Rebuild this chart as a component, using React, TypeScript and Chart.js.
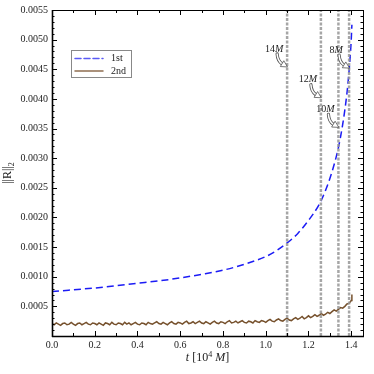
import { useEffect, useRef } from 'react';
import { Chart, registerables } from 'chart.js';
Chart.register(...registerables);

// ---- data ----
const blueT = [0, 0.1, 0.2, 0.3, 0.4, 0.5, 0.6, 0.7, 0.8, 0.9, 1.0, 1.05, 1.1, 1.15, 1.2, 1.25, 1.28, 1.31, 1.34, 1.36, 1.38, 1.39, 1.4, 1.403];
const blueR = [0.00075, 0.00078, 0.00081, 0.00085, 0.00089, 0.00093, 0.00098, 0.00104, 0.00111, 0.00121, 0.00134, 0.00144, 0.00157, 0.00173, 0.00195, 0.00222, 0.00246, 0.00277, 0.00318, 0.00357, 0.0041, 0.00448, 0.005, 0.00525];

const brownT = [
  0.00, 0.01, 0.02, 0.03, 0.04, 0.05, 0.06, 0.07, 0.08, 0.09,
  0.10, 0.11, 0.12, 0.13, 0.14, 0.15, 0.16, 0.17, 0.18, 0.19,
  0.20, 0.21, 0.22, 0.23, 0.24, 0.25, 0.26, 0.27, 0.28, 0.29,
  0.30, 0.31, 0.32, 0.33, 0.34, 0.35, 0.36, 0.37, 0.38, 0.39,
  0.40, 0.41, 0.42, 0.43, 0.44, 0.45, 0.46, 0.47, 0.48, 0.49,
  0.50, 0.51, 0.52, 0.53, 0.54, 0.55, 0.56, 0.57, 0.58, 0.59,
  0.60, 0.61, 0.62, 0.63, 0.64, 0.65, 0.66, 0.67, 0.68, 0.69,
  0.70, 0.71, 0.72, 0.73, 0.74, 0.75, 0.76, 0.77, 0.78, 0.79,
  0.80, 0.81, 0.82, 0.83, 0.84, 0.85, 0.86, 0.87, 0.88, 0.89,
  0.90, 0.91, 0.92, 0.93, 0.94, 0.95, 0.96, 0.97, 0.98, 0.99,
  1.00, 1.01, 1.02, 1.03, 1.04, 1.05, 1.06, 1.07, 1.08, 1.09,
  1.10, 1.11, 1.12, 1.13, 1.14, 1.15, 1.16, 1.17, 1.18, 1.19,
  1.20, 1.21, 1.22, 1.23, 1.24, 1.25, 1.26, 1.27, 1.28, 1.29,
  1.30, 1.31, 1.32, 1.33, 1.34, 1.35, 1.36, 1.37, 1.38, 1.39,
  1.40, 1.403,
];
const brownR = [
  0.00021, 0.00019, 0.00022, 0.00020, 0.00018, 0.00021, 0.00022, 0.00019, 0.00020, 0.00023,
  0.00020, 0.00018, 0.00021, 0.00022, 0.00019, 0.00021, 0.00023, 0.00020, 0.00019, 0.00022,
  0.00021, 0.00019, 0.00022, 0.00020, 0.00018, 0.00022, 0.00021, 0.00019, 0.00023, 0.00020,
  0.00019, 0.00022, 0.00021, 0.00019, 0.00023, 0.00020, 0.00022, 0.00019, 0.00021, 0.00023,
  0.00020, 0.00019, 0.00022, 0.00021, 0.00019, 0.00023, 0.00021, 0.00020, 0.00022, 0.00024,
  0.00021, 0.00020, 0.00023, 0.00021, 0.00019, 0.00022, 0.00024, 0.00021, 0.00020, 0.00023,
  0.00022, 0.00020, 0.00023, 0.00025, 0.00021, 0.00022, 0.00024, 0.00021, 0.00023, 0.00025,
  0.00022, 0.00021, 0.00024, 0.00022, 0.00020, 0.00023, 0.00025, 0.00022, 0.00021, 0.00024,
  0.00023, 0.00021, 0.00024, 0.00026, 0.00022, 0.00023, 0.00025, 0.00022, 0.00024, 0.00026,
  0.00023, 0.00022, 0.00025, 0.00024, 0.00022, 0.00026, 0.00024, 0.00023, 0.00026, 0.00025,
  0.00023, 0.00026, 0.00028, 0.00025, 0.00024, 0.00027, 0.00029, 0.00026, 0.00025, 0.00028,
  0.00030, 0.00027, 0.00026, 0.00029, 0.00031, 0.00028, 0.00030, 0.00033, 0.00029, 0.00031,
  0.00034, 0.00031, 0.00033, 0.00036, 0.00033, 0.00035, 0.00038, 0.00035, 0.00037, 0.00040,
  0.00038, 0.00041, 0.00044, 0.00042, 0.00045, 0.00048, 0.00047, 0.00050, 0.00054, 0.00055,
  0.00060, 0.00070,
];

const markT = [1.10, 1.258, 1.34, 1.39];
const markLabel = ['14', '12', '10', '8'];
const markR = [0.00454, 0.00402, 0.00352, 0.00452];

const xMajorTicks = [0, 0.2, 0.4, 0.6, 0.8, 1.0, 1.2, 1.4];
const legendLabels = ['1st', '2nd'];

const X_MIN = 0, X_MAX = 1.455, Y_MIN = 0, Y_MAX = 0.0055;
const BLUE = '#1c1cf5';
const BROWN = '#76512d';
const SERIF = '"Liberation Serif", "DejaVu Serif", serif';

function drawArrow(ctx: CanvasRenderingContext2D, px: number, py: number) {
  const dx = 0.857, dy = 0.514;
  const bx = px - 6 * dx, by = py - 6 * dy;
  const nx = -dy, ny = dx;
  const sx = px - 10, sy = py - 13;
  ctx.lineCap = 'round';
  ctx.setLineDash([]);
  ctx.beginPath();
  ctx.moveTo(sx, sy);
  ctx.quadraticCurveTo(px - 9.5, py - 6, bx, by);
  ctx.strokeStyle = '#555';
  ctx.lineWidth = 3.2;
  ctx.stroke();
  ctx.beginPath();
  ctx.moveTo(sx, sy);
  ctx.quadraticCurveTo(px - 9.5, py - 6, bx, by);
  ctx.strokeStyle = '#fff';
  ctx.lineWidth = 1.5;
  ctx.stroke();
  ctx.beginPath();
  ctx.moveTo(px, py);
  ctx.lineTo(bx + 3.2 * nx, by + 3.2 * ny);
  ctx.lineTo(bx - 3.2 * nx, by - 3.2 * ny);
  ctx.closePath();
  ctx.fillStyle = '#fff';
  ctx.fill();
  ctx.strokeStyle = '#555';
  ctx.lineWidth = 0.8;
  ctx.stroke();
}

const decoPlugin = {
  id: 'deco',
  afterDatasetsDraw(chart: any) {
    const { ctx, chartArea: a, scales } = chart;
    const x = scales.x, y = scales.y;
    ctx.save();
    const line = (x1: number, y1: number, x2: number, y2: number) => {
      ctx.beginPath(); ctx.moveTo(x1, y1); ctx.lineTo(x2, y2); ctx.stroke();
    };
    // frame
    ctx.setLineDash([]);
    ctx.strokeStyle = '#000';
    ctx.lineWidth = 1;
    ctx.strokeRect(Math.round(a.left) + 0.5, Math.round(a.top) + 0.5, Math.round(a.right - a.left), Math.round(a.bottom - a.top));
    ctx.lineWidth = 1.6;
    line(Math.round(a.left) + 0.5, a.top, Math.round(a.left) + 0.5, a.bottom + 1);
    line(a.left, Math.round(a.bottom) + 0.5, a.right + 1, Math.round(a.bottom) + 0.5);
    ctx.lineWidth = 1;
    // x ticks
    for (let i = 0; i <= 14; i++) {
      const v = i / 10;
      const px = Math.round(x.getPixelForValue(v)) + 0.5;
      const L = i % 2 === 0 ? 5 : 3;
      line(px, a.bottom, px, a.bottom - L);
      line(px, a.top, px, a.top + L);
    }
    // y ticks
    for (let i = 1; i <= 55; i++) {
      const v = i * 0.0001;
      const py = Math.round(y.getPixelForValue(v)) + 0.5;
      const L = i % 5 === 0 ? 5 : 2.5;
      line(a.left, py, a.left + L, py);
      line(a.right, py, a.right - L, py);
    }
    // annotations
    for (let i = 0; i < markT.length; i++) {
      const px = x.getPixelForValue(markT[i]);
      const py = y.getPixelForValue(markR[i]);
      drawArrow(ctx, px, py);
      ctx.font = `10px ${SERIF}`;
      const num = markLabel[i];
      const wNum = ctx.measureText(num).width;
      ctx.font = `italic 10px ${SERIF}`;
      const wM = ctx.measureText('M').width;
      const cx = px - 13, cy = py - 18;
      const start = cx - (wNum + wM) / 2;
      ctx.fillStyle = '#222';
      ctx.textBaseline = 'middle';
      ctx.textAlign = 'left';
      ctx.font = `10px ${SERIF}`;
      ctx.fillText(num, start, cy);
      ctx.font = `italic 10px ${SERIF}`;
      ctx.fillText('M', start + wNum, cy);
    }
    // legend
    const lx = a.left + 19, ly = a.top + 40;
    ctx.fillStyle = '#fff';
    ctx.fillRect(lx, ly, 60, 27);
    ctx.strokeStyle = '#888';
    ctx.lineWidth = 1;
    ctx.strokeRect(lx + 0.5, ly + 0.5, 60, 27);
    ctx.lineWidth = 1.5;
    ctx.strokeStyle = '#5a5af5';
    ctx.setLineDash([6, 3]);
    line(lx + 4, ly + 8.5, lx + 32, ly + 8.5);
    ctx.setLineDash([]);
    ctx.strokeStyle = '#8e6e50';
    line(lx + 4, ly + 21, lx + 32, ly + 21);
    ctx.fillStyle = '#222';
    ctx.font = `10px ${SERIF}`;
    ctx.textBaseline = 'middle';
    ctx.textAlign = 'left';
    ctx.fillText(legendLabels[0], lx + 40, ly + 8.5);
    ctx.fillText(legendLabels[1], lx + 40, ly + 21);
    // x title
    const parts: [string, string, number][] = [
      ['t', 'italic 12px', 0], [' [10', '12px', 0], ['4', '8px', -4], [' ', '12px', 0], ['M', 'italic 12px', 0], [']', '12px', 0],
    ];
    let total = 0;
    for (const p of parts) { ctx.font = `${p[1]} ${SERIF}`; total += ctx.measureText(p[0]).width; }
    let cxp = (a.left + a.right) / 2 - total / 2;
    const ty = 357;
    ctx.textBaseline = 'alphabetic';
    for (const p of parts) {
      ctx.font = `${p[1]} ${SERIF}`;
      ctx.fillText(p[0], cxp, ty + 4 + p[2]);
      cxp += ctx.measureText(p[0]).width;
    }
    // y title
    ctx.save();
    ctx.translate(11, (a.top + a.bottom) / 2);
    ctx.rotate(-Math.PI / 2);
    ctx.font = `12px ${SERIF}`;
    const w1 = ctx.measureText('||R||').width;
    ctx.font = `8px ${SERIF}`;
    const w2 = ctx.measureText('2').width;
    const s = -(w1 + w2) / 2;
    ctx.font = `12px ${SERIF}`;
    ctx.fillText('||R||', s, 0);
    ctx.font = `8px ${SERIF}`;
    ctx.fillText('2', s + w1, 3);
    ctx.restore();
    ctx.restore();
  },
};

export default function App() {
  const ref = useRef<HTMLCanvasElement | null>(null);
  useEffect(() => {
    if (!ref.current) return;
    const vlines = markT.map((t) => ({
      data: [{ x: t, y: Y_MIN }, { x: t, y: Y_MAX }],
      borderColor: 'rgba(150,150,150,0.85)',
      borderWidth: 2.5,
      borderDash: [3, 1.5],
      pointRadius: 0,
      fill: false,
    }));
    const chart = new Chart(ref.current, {
      type: 'line',
      data: {
        datasets: [
          ...vlines,
          {
            data: brownT.map((t, i) => ({ x: t, y: brownR[i] })),
            borderColor: BROWN,
            borderWidth: 1.5,
            pointRadius: 0,
            tension: 0,
            fill: false,
          },
          {
            data: blueT.map((t, i) => ({ x: t, y: blueR[i] })),
            borderColor: BLUE,
            borderWidth: 1.5,
            borderDash: [7, 4],
            pointRadius: 0,
            cubicInterpolationMode: 'monotone',
            fill: false,
          },
        ] as any,
      },
      options: {
        animation: false,
        responsive: false,
        maintainAspectRatio: false,
        layout: { padding: { left: 0, right: 11, top: 5, bottom: 0 } },
        plugins: { legend: { display: false }, tooltip: { enabled: false }, title: { display: false } },
        scales: {
          x: {
            type: 'linear',
            min: X_MIN,
            max: X_MAX,
            grid: { display: false, drawTicks: false },
            border: { display: false },
            afterBuildTicks: (s: any) => {
              s.ticks = xMajorTicks.map((v) => ({ value: v }));
            },
            afterFit: (s: any) => { s.height = 38; },
            ticks: {
              autoSkip: false,
              maxRotation: 0,
              padding: 3,
              color: '#222',
              font: { family: SERIF, size: 10 },
              callback: (v: any) => Number(v).toFixed(1),
            },
          },
          y: {
            type: 'linear',
            min: Y_MIN,
            max: Y_MAX,
            grid: { display: false, drawTicks: false },
            border: { display: false },
            afterFit: (s: any) => { s.width = 52; },
            ticks: {
              stepSize: 0.0005,
              padding: 4,
              color: '#222',
              font: { family: SERIF, size: 10 },
              callback: (v: any) => (Number(v) < 1e-9 ? '' : Number(v).toFixed(4)),
            },
          },
        },
      },
      plugins: [decoPlugin],
    } as any);
    return () => chart.destroy();
  }, []);
  return (
    <div style={{ position: 'absolute', left: 0, top: 0, width: 374, height: 374, background: '#fff' }}>
      <canvas ref={ref} width={374} height={374} style={{ width: 374, height: 374, display: 'block' }} />
    </div>
  );
}
